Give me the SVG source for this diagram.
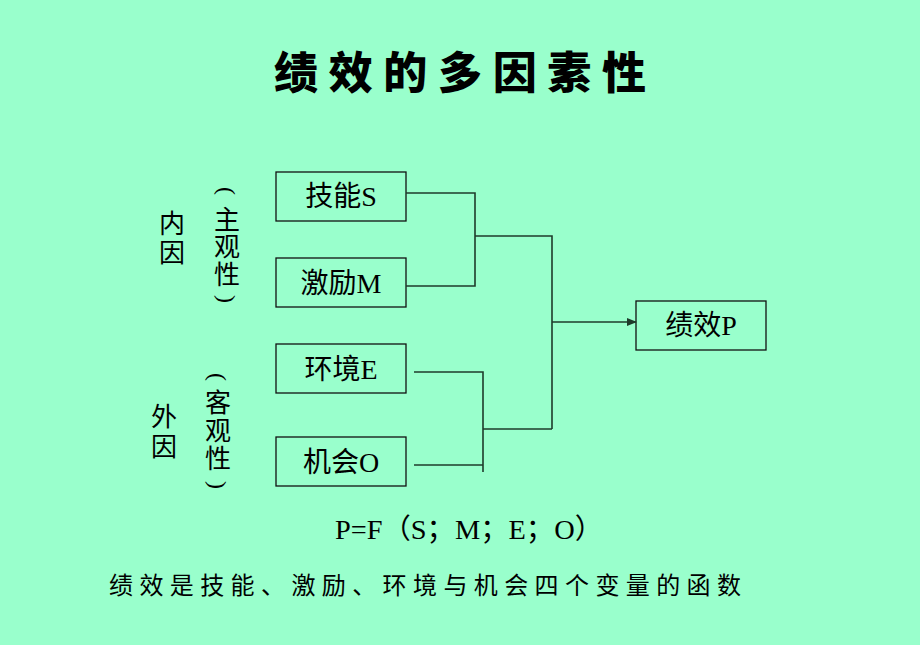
<svg xmlns="http://www.w3.org/2000/svg" width="920" height="645" viewBox="0 0 920 645">
<style>
.box{fill:none;stroke:#111;stroke-width:1.3}
.lbl{font-family:"Liberation Serif","Noto Sans CJK SC",serif;font-size:28px;fill:#000;text-anchor:middle}
.vert{font-family:"Noto Sans CJK SC",sans-serif;font-size:26px;fill:#000;writing-mode:vertical-rl}
.par{font-family:"Liberation Serif",serif;font-size:24px;fill:#000;text-anchor:middle;dominant-baseline:central}
.wire{fill:none;stroke:#1f3b2b;stroke-width:1.6}
</style>
<defs>
<marker id="ah" markerWidth="10" markerHeight="8" refX="9" refY="4" orient="auto" markerUnits="userSpaceOnUse">
<path d="M0,0 L10,4 L0,8 Z" fill="#1f3b2b"/>
</marker>
</defs>
<rect width="920" height="645" fill="#99FFCC"/>
<text x="460" y="89" font-family="'Noto Sans CJK SC',sans-serif" font-weight="900" font-size="44" text-anchor="middle" textLength="372" lengthAdjust="spacing">绩效的多因素性</text>

<g id="side-inner">
<text class="vert" x="172" y="210" letter-spacing="3">内因</text>
<text class="par" transform="translate(227,191) rotate(90)">(</text>
<text class="vert" x="227" y="206" letter-spacing="1.5">主观性</text>
<text class="par" transform="translate(227,299) rotate(90)">)</text>
</g>
<g id="side-outer">
<text class="vert" x="164" y="403" letter-spacing="4">外因</text>
<text class="par" transform="translate(218,377) rotate(90)">(</text>
<text class="vert" x="218" y="389" letter-spacing="2">客观性</text>
<text class="par" transform="translate(218,485) rotate(90)">)</text>
</g>

<g id="node-S"><rect class="box" x="276" y="172" width="130" height="49"/><text class="lbl" x="341" y="206">技能S</text></g>
<g id="node-M"><rect class="box" x="276" y="258" width="130" height="49"/><text class="lbl" x="341" y="293">激励M</text></g>
<g id="node-E"><rect class="box" x="276" y="344" width="130" height="49"/><text class="lbl" x="341" y="379">环境E</text></g>
<g id="node-O"><rect class="box" x="276" y="437" width="130" height="49"/><text class="lbl" x="341" y="472">机会O</text></g>
<g id="node-P"><rect class="box" x="636" y="301" width="130" height="49"/><text class="lbl" x="701" y="335">绩效P</text></g>

<g id="connectors">
<path class="wire" d="M406,193 H475 V286 H406"/>
<path class="wire" d="M475,236 H552 V429"/>
<path class="wire" d="M414,372 H483 V472"/>
<path class="wire" d="M414,465 H483"/>
<path class="wire" d="M483,429 H552"/>
<path class="wire" d="M552,322 H636" marker-end="url(#ah)"/>
</g>

<text x="335" y="539" font-family="'Liberation Serif','Noto Sans CJK SC',serif" font-size="28" textLength="268" lengthAdjust="spacingAndGlyphs">P=F（S；M；E；O）</text>
<text x="109" y="594" font-family="'Noto Sans CJK SC',sans-serif" font-size="24" textLength="632" lengthAdjust="spacing">绩效是技能、激励、环境与机会四个变量的函数</text>
</svg>
